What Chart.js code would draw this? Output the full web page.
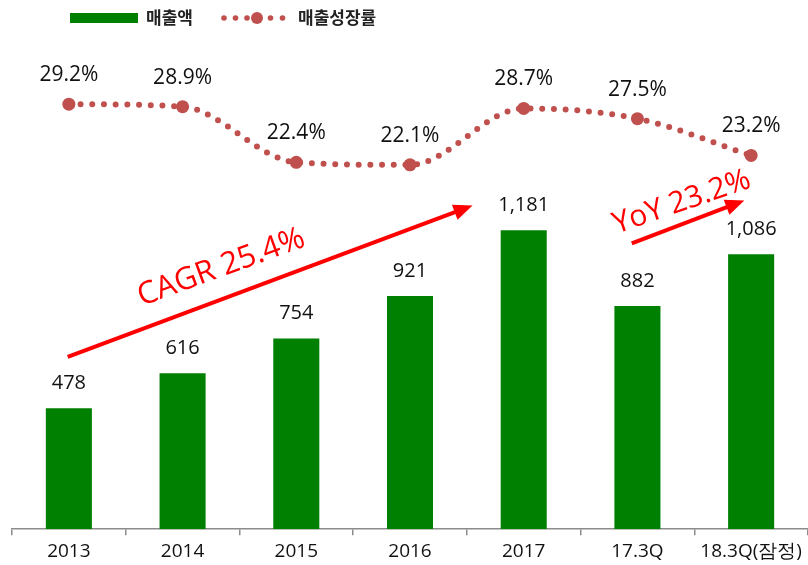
<!DOCTYPE html>
<html>
<head>
<meta charset="utf-8">
<script src="https://cdn.jsdelivr.net/npm/chart.js@4"></script>
<style>
  html, body { margin: 0; padding: 0; background: #fff; }
  #wrap { width: 808px; height: 565px; }
</style>
</head>
<body>
<div id="wrap"><canvas id="chart" width="808" height="565"></canvas></div>
<script>
// data
const categories = ['2013', '2014', '2015', '2016', '2017', '17.3Q', '18.3Q(잠정)'];
const sales = [478, 616, 754, 921, 1181, 882, 1086];
const growth = [29.2, 28.9, 22.4, 22.1, 28.7, 27.5, 23.2];
const seriesNames = ['매출액', '매출성장률'];

const GREEN = '#008000';
const RED_DOT = '#c0504d';
const NUM_FONT = '"Open Sans", "Noto Sans", sans-serif';
const KR_FONT = '"Noto Sans CJK KR", "Noto Sans", sans-serif';

function fmt(n) {
    return n.toLocaleString('en-US');
}

// value labels above bars and line points
const valueLabels = {
    id: 'valueLabels',
    afterDatasetsDraw(chart) {
        const ctx = chart.ctx;
        ctx.save();
        ctx.fillStyle = '#111';
        ctx.textAlign = 'center';
        ctx.textBaseline = 'middle';
        ctx.font = '20px ' + NUM_FONT;
        chart.getDatasetMeta(0).data.forEach((bar, i) => {
            ctx.fillText(fmt(sales[i]), bar.x, bar.y - 25);
        });
        ctx.font = '21px ' + NUM_FONT;
        chart.getDatasetMeta(1).data.forEach((pt, i) => {
            ctx.fillText(growth[i].toFixed(1) + '%', pt.x, pt.y - 29);
        });
        ctx.restore();
    }
};

function arrow(ctx, x1, y1, x2, y2) {
    const ang = Math.atan2(y2 - y1, x2 - x1);
    const head = 19, half = 8;
    const bx = x2 - head * Math.cos(ang), by = y2 - head * Math.sin(ang);
    ctx.beginPath();
    ctx.moveTo(x1, y1);
    ctx.lineTo(bx + Math.cos(ang), by + Math.sin(ang));
    ctx.stroke();
    ctx.beginPath();
    ctx.moveTo(x2, y2);
    ctx.lineTo(bx + half * Math.sin(ang), by - half * Math.cos(ang));
    ctx.lineTo(bx - half * Math.sin(ang), by + half * Math.cos(ang));
    ctx.closePath();
    ctx.fill();
}

// CAGR / YoY arrows, placed with the chart's own scales
const growthArrows = {
    id: 'growthArrows',
    afterDatasetsDraw(chart) {
        const { ctx, scales } = chart;
        const px = v => scales.x.getPixelForValue(v);
        const py = v => scales.y.getPixelForValue(v);
        ctx.save();
        ctx.strokeStyle = '#ff0000';
        ctx.fillStyle = '#ff0000';
        ctx.lineWidth = 4;
        arrow(ctx, px(-0.01), py(681), px(3.55), py(1279));
        arrow(ctx, px(4.95), py(1129), px(5.94), py(1299));

        ctx.font = '31px ' + NUM_FONT;
        ctx.textAlign = 'center';
        ctx.textBaseline = 'middle';
        ctx.translate(px(1.34), py(1034));
        ctx.rotate(-20 * Math.PI / 180);
        ctx.fillText('CAGR 25.4%', 0, 0);
        ctx.setTransform(1, 0, 0, 1, 0, 0);
        ctx.font = '30px ' + NUM_FONT;
        ctx.translate(px(5.39), py(1292));
        ctx.rotate(-19 * Math.PI / 180);
        ctx.fillText('YoY 23.2%', 0, 0);
        ctx.restore();
    }
};

// legend drawn at the top
const topLegend = {
    id: 'topLegend',
    afterDraw(chart) {
        const ctx = chart.ctx;
        ctx.save();
        ctx.fillStyle = GREEN;
        ctx.fillRect(70, 13, 68, 10);
        ctx.fillStyle = RED_DOT;
        [224, 235.5, 247, 270.5, 282.5].forEach(x => {
            ctx.beginPath();
            ctx.arc(x, 18, 2.8, 0, Math.PI * 2);
            ctx.fill();
        });
        ctx.beginPath();
        ctx.arc(257, 18, 6, 0, Math.PI * 2);
        ctx.fill();
        ctx.fillStyle = '#222';
        ctx.font = 'bold 17px ' + KR_FONT;
        ctx.textBaseline = 'middle';
        ctx.fillText(seriesNames[0], 146, 18);
        ctx.fillText(seriesNames[1], 298, 18);
        ctx.restore();
    }
};

new Chart(document.getElementById('chart'), {
    data: {
        labels: categories,
        datasets: [
            {
                type: 'bar',
                label: seriesNames[0],
                data: sales,
                backgroundColor: GREEN,
                categoryPercentage: 1,
                barPercentage: 0.405,
                yAxisID: 'y',
                order: 2
            },
            {
                type: 'line',
                label: seriesNames[1],
                data: growth,
                borderColor: RED_DOT,
                backgroundColor: RED_DOT,
                borderWidth: 6,
                borderDash: [0, 11.7],
                borderCapStyle: 'round',
                cubicInterpolationMode: 'monotone',
                pointRadius: 6.5,
                pointBorderWidth: 0,
                pointBackgroundColor: RED_DOT,
                yAxisID: 'y2',
                order: 1
            }
        ]
    },
    options: {
        responsive: false,
        animation: false,
        layout: { autoPadding: false, padding: { left: 12, right: 0, top: 40, bottom: -3 } },
        plugins: {
            legend: { display: false },
            tooltip: { enabled: false }
        },
        scales: {
            x: {
                offset: true,
                grid: {
                    display: true,
                    offset: true,
                    drawOnChartArea: false,
                    drawTicks: true,
                    tickLength: 6,
                    color: '#8c8c8c',
                    lineWidth: 1.5
                },
                border: { display: true, color: '#8c8c8c', width: 1.5 },
                ticks: {
                    color: '#111',
                    font: { family: NUM_FONT, size: 19 },
                    padding: 5,
                    maxRotation: 0,
                    autoSkip: false
                }
            },
            y: { display: false, min: 0, max: 1933 },
            y2: { display: false, min: -20.5, max: 36.7 }
        }
    },
    plugins: [valueLabels, growthArrows, topLegend]
});
</script>
</body>
</html>
